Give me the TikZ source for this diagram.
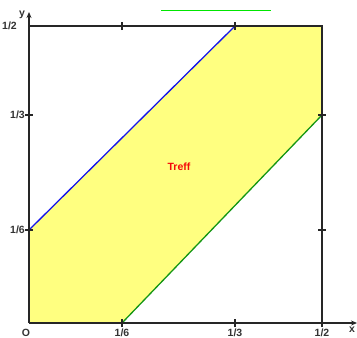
\documentclass[tikz,border=0pt]{standalone}
\usepackage{fontspec}
\setmainfont{Liberation Sans}
\usetikzlibrary{arrows.meta}
\definecolor{fillyellow}{RGB}{255,255,128}
\definecolor{bluel}{RGB}{20,20,235}
\definecolor{greenl}{RGB}{20,150,20}
\definecolor{linkgreen}{RGB}{0,230,0}
\definecolor{treffred}{RGB}{245,10,10}
\tikzset{
  axisline/.style={line width=1.6pt, black!85},
  tickmark/.style={line width=1.3pt, black!85},
  lbl/.style={font=\fontsize{10.5}{11}\selectfont\bfseries, inner sep=0pt, text=black!80},
  arrowtip/.style={-{Stealth[length=6pt,width=5pt]}}
}
\begin{document}
\begin{tikzpicture}[x=1pt,y=-1pt]
\useasboundingbox (0,0) rectangle (357,338);
% key points
\coordinate (O) at (29,323);
\coordinate (Y6) at (29,230);
\coordinate (Y3) at (29,115);
\coordinate (Y2) at (29,26);
\coordinate (Ytip) at (29,12);
\coordinate (X6) at (122,323);
\coordinate (X3) at (235,323);
\coordinate (X2) at (322,323);
\coordinate (Xtip) at (357,323);
\coordinate (T6) at (122,26);
\coordinate (T3) at (235,26);
\coordinate (TR) at (322,26);
\coordinate (R3) at (322,115);
\coordinate (R6) at (322,230);
% region
\fill[fillyellow] (O) -- (Y6) -- (T3) -- (TR) -- (R3) -- (X6) -- cycle;
% boundary lines
\draw[bluel, line width=1.3pt] (Y6) -- (T3);
\draw[greenl, line width=1.3pt] (X6) -- (R3);
% frame
\draw[axisline] (Y2) -- (TR) -- (X2);
\draw[axisline, arrowtip] (O) -- (Ytip);
\draw[axisline, arrowtip] (O) -- (Xtip);
% ticks
\foreach \p in {X6,X3,X2,T6,T3}
  \draw[tickmark] ([yshift=-4pt]\p) -- ([yshift=4pt]\p);
\foreach \p in {Y6,Y3,R3,R6}
  \draw[tickmark] ([xshift=-4pt]\p) -- ([xshift=4pt]\p);
% labels
\node[lbl, anchor=east] (l12) at (17,26) {1/2};
\node[lbl, anchor=east] (l13) at (25,115) {1/3};
\node[lbl, anchor=east] (l16) at (25,230) {1/6};
\node[lbl, anchor=south] (lo) at (26,336.5) {O};
\node[lbl, anchor=south] (lx6) at (122,336.5) {1/6};
\node[lbl, anchor=south] (lx3) at (235,336.5) {1/3};
\node[lbl, anchor=south] (lx2) at (322,336.5) {1/2};
\node[lbl] (ly) at (22,15) {y};
\node[lbl] (lx) at (352,330) {x};
\node[font=\fontsize{10.5}{11}\selectfont\bfseries, text=treffred, inner sep=0pt] (treff) at (179,167) {Treff};
% link underline fragment at top
\coordinate (ga) at (161,10);
\coordinate (gb) at (271,10);
\draw[linkgreen, line width=0.9pt] (ga) -- (gb);
\end{tikzpicture}
\end{document}
